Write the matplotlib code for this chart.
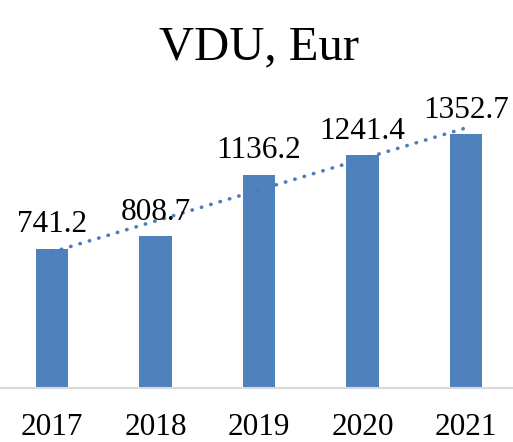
import matplotlib.pyplot as plt
import numpy as np

years = ['2017', '2018', '2019', '2020', '2021']
values = [741.2, 808.7, 1136.2, 1241.4, 1352.7]
labels = ['741.2', '808.7', '1136.2', '1241.4', '1352.7']

plt.rcParams['font.family'] = ['Liberation Serif', 'DejaVu Serif']

fig = plt.figure(figsize=(5.13, 4.42), dpi=100)
ax = fig.add_axes([0, 0.122, 1, 0.679])

x = np.arange(len(years))
ax.bar(x, values, width=0.31, color='#4F81BD', zorder=2)

# linear trend line
k, b = np.polyfit(x, values, 1)
ax.plot(x, k * x + b, linestyle=(0, (0.1, 2.6)), dash_capstyle='round',
        color='#4A7EBB', linewidth=2.6, zorder=3)

for xi, v, lab in zip(x, values, labels):
    ax.annotate(lab, (xi, v), xytext=(0, 12), textcoords='offset points',
                ha='center', va='baseline', fontsize=22.5)

ax.set_xlim(-0.502, 4.454)
ax.set_ylim(0, 1600)
ax.set_xticks(x)
ax.set_xticklabels(years, fontsize=22.5)
ax.tick_params(axis='x', length=0, pad=18)
ax.set_yticks([])
for s in ['top', 'left', 'right']:
    ax.spines[s].set_visible(False)
ax.spines['bottom'].set_color('#D9D9D9')
ax.spines['bottom'].set_linewidth(1.5)

fig.text(0.505, 0.893, 'VDU, Eur', ha='center', va='center', fontsize=35)

fig.savefig('out.png', dpi=100)
